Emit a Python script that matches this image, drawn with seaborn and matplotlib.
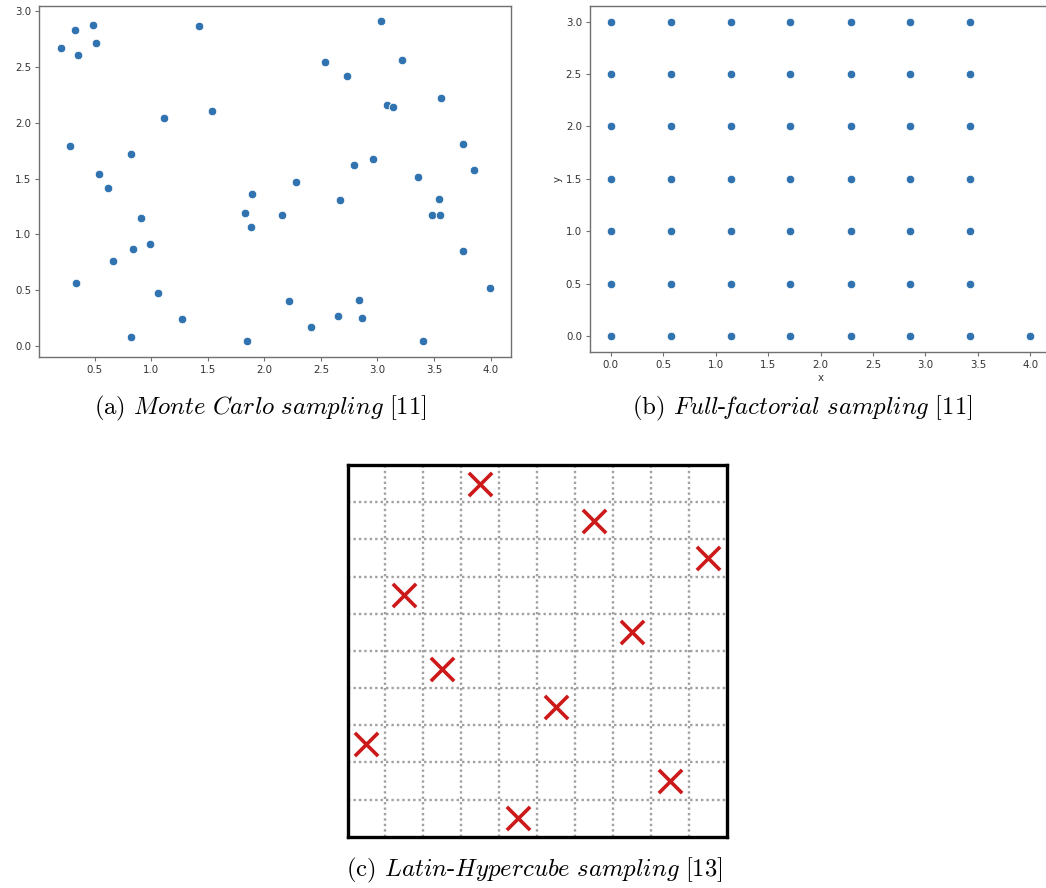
import numpy as np
import pandas as pd
import matplotlib
matplotlib.use("Agg")
import matplotlib.pyplot as plt
import seaborn as sns

# ---------------- data ----------------
# (a) Monte Carlo sampling
mc_x = [0.20, 0.33, 0.35, 0.49, 0.51, 1.42, 0.28, 0.82, 1.11, 1.54,
        0.54, 0.62, 1.89, 3.03, 2.54, 3.22, 2.73, 3.56, 3.08, 3.14,
        3.76, 3.85, 2.79, 2.96, 3.36, 2.28, 2.67, 3.54, 0.91, 1.83,
        1.88, 0.99, 0.84, 0.66, 0.34, 1.06, 1.27, 0.82, 1.85, 2.16,
        3.48, 3.55, 3.76, 3.99, 2.22, 2.84, 2.65, 2.86, 2.41, 3.40]
mc_y = [2.67, 2.83, 2.61, 2.88, 2.72, 2.87, 1.79, 1.72, 2.04, 2.11,
        1.54, 1.42, 1.36, 2.91, 2.55, 2.56, 2.42, 2.22, 2.16, 2.14,
        1.81, 1.58, 1.62, 1.68, 1.51, 1.47, 1.31, 1.32, 1.15, 1.19,
        1.07, 0.91, 0.87, 0.76, 0.56, 0.47, 0.24, 0.08, 0.04, 1.17,
        1.17, 1.17, 0.85, 0.52, 0.40, 0.41, 0.27, 0.25, 0.17, 0.04]

# (b) Full-factorial sampling
ff_x_levels = [0.0, 0.571, 1.143, 1.714, 2.286, 2.857, 3.429]
ff_y_levels = [0.0, 0.5, 1.0, 1.5, 2.0, 2.5, 3.0]
ff_extra_x = [4.0]
ff_extra_y = [0.0]

# (c) Latin-Hypercube sampling (cell centres on a 10x10 grid)
lhs_x = [3.5, 6.5, 9.5, 1.5, 7.5, 2.5, 5.5, 0.5, 8.5, 4.5]
lhs_y = [9.5, 8.5, 7.5, 6.5, 5.5, 4.5, 3.5, 2.5, 1.5, 0.5]
lhs_grid = [1, 2, 3, 4, 5, 6, 7, 8, 9]

tick_vals = [0.0, 0.5, 1.0, 1.5, 2.0, 2.5, 3.0, 3.5, 4.0]

captions = [
    r"(a) $\mathit{Monte\ Carlo\ sampling\ [11]}$",
    r"(b) $\mathit{Full}$-$\!\mathit{factorial\ sampling\ [11]}$",
    r"(c) $\mathit{Latin}$-$\mathit{Hypercube\ sampling\ [13]}$",
]

# ---------------- style ----------------
sns.set_style("white")
plt.rcParams["font.family"] = ["DejaVu Sans"]
plt.rcParams["mathtext.fontset"] = "cm"

W, H = 1046, 888
fig = plt.figure(figsize=(W / 100, H / 100), dpi=100)
fig.patch.set_facecolor("white")

def px_axes(l, t, r, b):
    return fig.add_axes([l / W, 1 - b / H, (r - l) / W, (b - t) / H])

dot_color = "#3172b0"
spine_color = "#707070"
tick_color = "#333333"

def style_scatter_ax(ax):
    for s in ax.spines.values():
        s.set_color(spine_color)
        s.set_linewidth(1.0)
        s.set_visible(True)
    ax.tick_params(axis="both", which="major", length=2.6, width=0.8,
                   color=spine_color, labelsize=7.4, labelcolor=tick_color,
                   pad=3.0, bottom=True, left=True)
    ax.grid(False)

# ---- (a) ----
ax_a = px_axes(39.3, 5.8, 510.8, 357)
df_a = pd.DataFrame({"x": mc_x, "y": mc_y})
sns.scatterplot(data=df_a, x="x", y="y", ax=ax_a, color=dot_color, s=38,
                edgecolor="white", linewidth=0.6)
ax_a.set_xlim(0.012, 4.178)
ax_a.set_ylim(-0.1, 3.05)
ax_a.set_xticks(tick_vals[1:])
ax_a.set_yticks(tick_vals[:7])
ax_a.set_xlabel("")
ax_a.set_ylabel("")
style_scatter_ax(ax_a)

# ---- (b) ----
ax_b = px_axes(589.7, 5.8, 1051.3, 352)
gx, gy = np.meshgrid(ff_x_levels, ff_y_levels)
df_b = pd.DataFrame({"x": list(gx.ravel()) + ff_extra_x,
                     "y": list(gy.ravel()) + ff_extra_y})
sns.scatterplot(data=df_b, x="x", y="y", ax=ax_b, color=dot_color, s=38,
                edgecolor="white", linewidth=0.6)
ax_b.set_xlim(-0.2, 4.2)
ax_b.set_ylim(-0.15, 3.15)
ax_b.set_xticks(tick_vals)
ax_b.set_yticks(tick_vals[:7])
ax_b.set_xlabel("x", fontsize=7.4, color=tick_color, labelpad=2.0)
ax_b.set_ylabel("y", fontsize=7.4, color=tick_color, labelpad=2.0)
style_scatter_ax(ax_b)

# ---- (c) ----
ax_c = px_axes(347.5, 465, 726.7, 836.7)
df_c = pd.DataFrame({"x": lhs_x, "y": lhs_y})
ax_c.set_xlim(0, 10)
ax_c.set_ylim(0, 10)
ax_c.set_xticks(lhs_grid)
ax_c.set_yticks(lhs_grid)
ax_c.grid(True, color="#a0a0a0", linestyle=(0, (1, 1.3)), linewidth=1.7)
ax_c.tick_params(length=0, labelbottom=False, labelleft=False)
sns.scatterplot(data=df_c, x="x", y="y", ax=ax_c, marker="x", s=280,
                color="#cc1a1a", linewidth=2.6, zorder=3)
ax_c.set_xlabel("")
ax_c.set_ylabel("")
for s in ax_c.spines.values():
    s.set_visible(True)
    s.set_color("black")
    s.set_linewidth(2.4)

# ---- captions ----
cap_kw = dict(ha="center", va="center", fontsize=17.8, family="cmr10",
              color="black")
fig.text(260 / W, 1 - 408 / H, captions[0], **cap_kw)
fig.text(802 / W, 1 - 408 / H, captions[1], **cap_kw)
fig.text(534 / W, 1 - 870 / H, captions[2], **cap_kw)

fig.savefig("out.png", dpi=100, facecolor="white")
